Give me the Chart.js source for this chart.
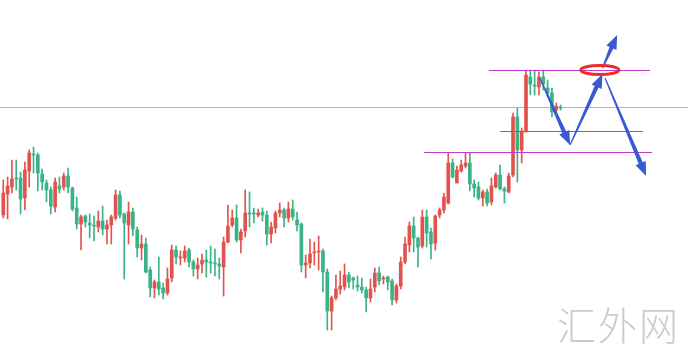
<!DOCTYPE html>
<html>
<head>
<meta charset="utf-8">
<script src="https://cdn.jsdelivr.net/npm/chart.js@4.4.1/dist/chart.umd.min.js"></script>
<style>
  html, body { margin: 0; padding: 0; background: #fff; }
  #wrap { position: relative; width: 688px; height: 355px; }
  #mark { position: absolute; left: 557px; top: 295px; font-family: "Noto Sans CJK SC", sans-serif; font-weight: 300; font-size: 39px; color: #cccccc; letter-spacing: 2px; }
</style>
</head>
<body>
<div id="wrap">
  <canvas id="myChart" width="688" height="355"></canvas>
  <div id="mark">汇外网</div>
</div>
<script>
// candle values (arbitrary price units)
const opens = [140,161,168,177,177,157,184,201,200,181,172,165,148,169,168,179,167,147,131,139,
  132,130,128,134,126,130,137,160,141,130,143,125,107,111,85,67,73,67,62,77,
  105,97,97,105,93,86,91,95,93,92,91,88,113,130,137,115,124,142,142,140,
  143,140,121,127,142,145,137,146,135,131,90,92,102,103,104,83,44,57,66,68,
  80,77,70,68,65,57,68,82,76,78,74,55,69,93,110,129,117,109,138,123,
  112,140,145,152,192,172,184,189,192,171,168,157,163,153,168,180,166,163,180,238,
  205,223,278,270,268,278,267,262,245,248];
const highs = [175,178,195,195,183,193,205,208,202,186,175,168,177,178,182,187,168,158,140,140,
  141,139,144,149,135,140,165,164,142,153,147,128,120,117,88,75,98,72,87,110,
  109,104,109,107,95,97,101,105,109,106,97,118,150,145,150,126,165,163,147,146,
  147,144,133,144,152,147,153,155,143,132,100,116,113,119,106,86,59,80,84,91,
  83,78,79,77,68,76,87,88,79,79,76,71,98,118,133,138,118,145,145,127,
  140,147,162,202,196,189,195,202,202,175,173,165,166,177,182,190,168,182,242,247,
  227,285,285,285,283,285,275,267,252,250];
const lows = [137,136,162,165,141,145,168,182,164,165,153,141,143,162,165,162,144,126,105,128,
  117,114,123,120,111,111,135,137,76,111,119,98,95,82,58,57,60,56,60,73,
  91,90,93,88,79,76,82,78,82,79,76,59,112,128,113,102,118,128,132,138,
  134,110,112,122,138,128,133,135,124,83,77,87,90,85,63,25,25,55,61,65,
  67,66,64,62,43,53,63,70,71,65,50,52,66,91,103,103,88,107,108,96,
  105,137,142,151,177,172,183,187,164,158,155,149,149,150,167,165,152,162,178,173,
  192,223,260,260,260,265,258,238,243,245];
const closes = [162,169,176,176,156,185,202,200,182,173,165,149,173,166,179,168,146,131,138,133,
  130,129,134,126,130,138,160,140,132,143,126,107,111,83,67,73,66,62,76,105,
  98,98,104,93,86,90,95,93,92,91,89,113,129,137,115,123,142,141,141,142,
  140,121,128,142,145,137,146,138,130,90,92,101,103,104,83,44,57,66,69,80,
  73,75,68,65,57,66,82,74,77,73,55,69,93,111,129,117,108,138,122,111,
  139,145,158,192,178,185,190,192,171,167,157,163,152,169,180,166,164,179,238,205,
  224,280,271,269,278,271,262,243,249,247];

// drawn levels: [price, from index, to index]
const lastPrice = 248;
const levels = [[285, 112.4, 149.7], [224, 115, 148.1], [203, 97.4, 150.2]];
// arrows: [x1, y1, x2, y2] in index / price
const arrows = [[124.2, 277, 131.2, 210], [131.2, 210, 138.7, 281], [138.7, 287, 142.1, 320], [139.3, 277, 148.8, 179]];
const ring = [138.1, 285];

const upColor = '#e2534e';
const downColor = '#3ab386';

const candleColors = opens.map((o, i) => closes[i] >= o ? upColor : downColor);
const wickData = opens.map((o, i) => ({ x: i, y: [lows[i], highs[i]] }));
const bodyData = opens.map((o, i) => ({ x: i, y: [o, closes[i]] }));

function drawArrow(ctx, x1, y1, x2, y2) {
    const ang = Math.atan2(y2 - y1, x2 - x1);
    const head = 12;
    const bx = x2 - Math.cos(ang) * head, by = y2 - Math.sin(ang) * head;
    const nx = -Math.sin(ang), ny = Math.cos(ang);
    ctx.fillStyle = '#3a58d4';
    // tapering shaft
    ctx.beginPath();
    ctx.moveTo(x1 + nx * 0.6, y1 + ny * 0.6);
    ctx.lineTo(bx + nx * 2.2, by + ny * 2.2);
    ctx.lineTo(bx - nx * 2.2, by - ny * 2.2);
    ctx.lineTo(x1 - nx * 0.6, y1 - ny * 0.6);
    ctx.closePath();
    ctx.fill();
    // head
    ctx.beginPath();
    ctx.moveTo(x2, y2);
    ctx.lineTo(bx + nx * 5.5 - Math.cos(ang) * 2, by + ny * 5.5 - Math.sin(ang) * 2);
    ctx.lineTo(bx - nx * 5.5 - Math.cos(ang) * 2, by - ny * 5.5 - Math.sin(ang) * 2);
    ctx.closePath();
    ctx.fill();
}

const overlay = {
    id: 'overlay',
    beforeDatasetsDraw(chart) {
        const { ctx, scales: { y }, chartArea } = chart;
        ctx.save();
        ctx.fillStyle = '#5fbf9c';
        ctx.globalAlpha = 0.75;
        ctx.fillRect(chartArea.left, Math.round(y.getPixelForValue(lastPrice)), chartArea.right - chartArea.left, 1);
        ctx.restore();
    },
    afterDatasetsDraw(chart) {
        const { ctx, scales: { x, y } } = chart;
        ctx.save();
        ctx.fillStyle = '#c03ad0';
        levels.forEach(l => {
            const x1 = x.getPixelForValue(l[1]);
            ctx.fillRect(x1, Math.round(y.getPixelForValue(l[0])), x.getPixelForValue(l[2]) - x1, 1);
        });
        arrows.forEach(a => drawArrow(ctx, x.getPixelForValue(a[0]), y.getPixelForValue(a[1]),
            x.getPixelForValue(a[2]), y.getPixelForValue(a[3])));
        ctx.strokeStyle = '#ee2b2b';
        ctx.lineWidth = 3;
        ctx.beginPath();
        ctx.ellipse(x.getPixelForValue(ring[0]), y.getPixelForValue(ring[1]), 19, 4.5, 0, 0, Math.PI * 2);
        ctx.stroke();
        ctx.restore();
    }
};

document.addEventListener("DOMContentLoaded", function () {
    const ctx = document.getElementById('myChart').getContext('2d');
    const myChart = new Chart(ctx, {
        type: 'bar',
        data: {
            datasets: [{
                label: 'wick',
                data: wickData,
                backgroundColor: candleColors,
                barThickness: 1,
                grouped: false,
                borderWidth: 0
            }, {
                label: 'body',
                data: bodyData,
                backgroundColor: candleColors,
                barThickness: 3,
                minBarLength: 1,
                grouped: false,
                borderWidth: 0
            }]
        },
        options: {
            responsive: false,
            animation: false,
            layout: { padding: 0 },
            plugins: {
                legend: { display: false },
                tooltip: { enabled: false }
            },
            scales: {
                x: { type: 'linear', min: -0.76, max: 158.5, offset: false, display: false },
                y: { min: 0, max: 355, display: false }
            }
        },
        plugins: [overlay]
    });
});
</script>
</body>
</html>
